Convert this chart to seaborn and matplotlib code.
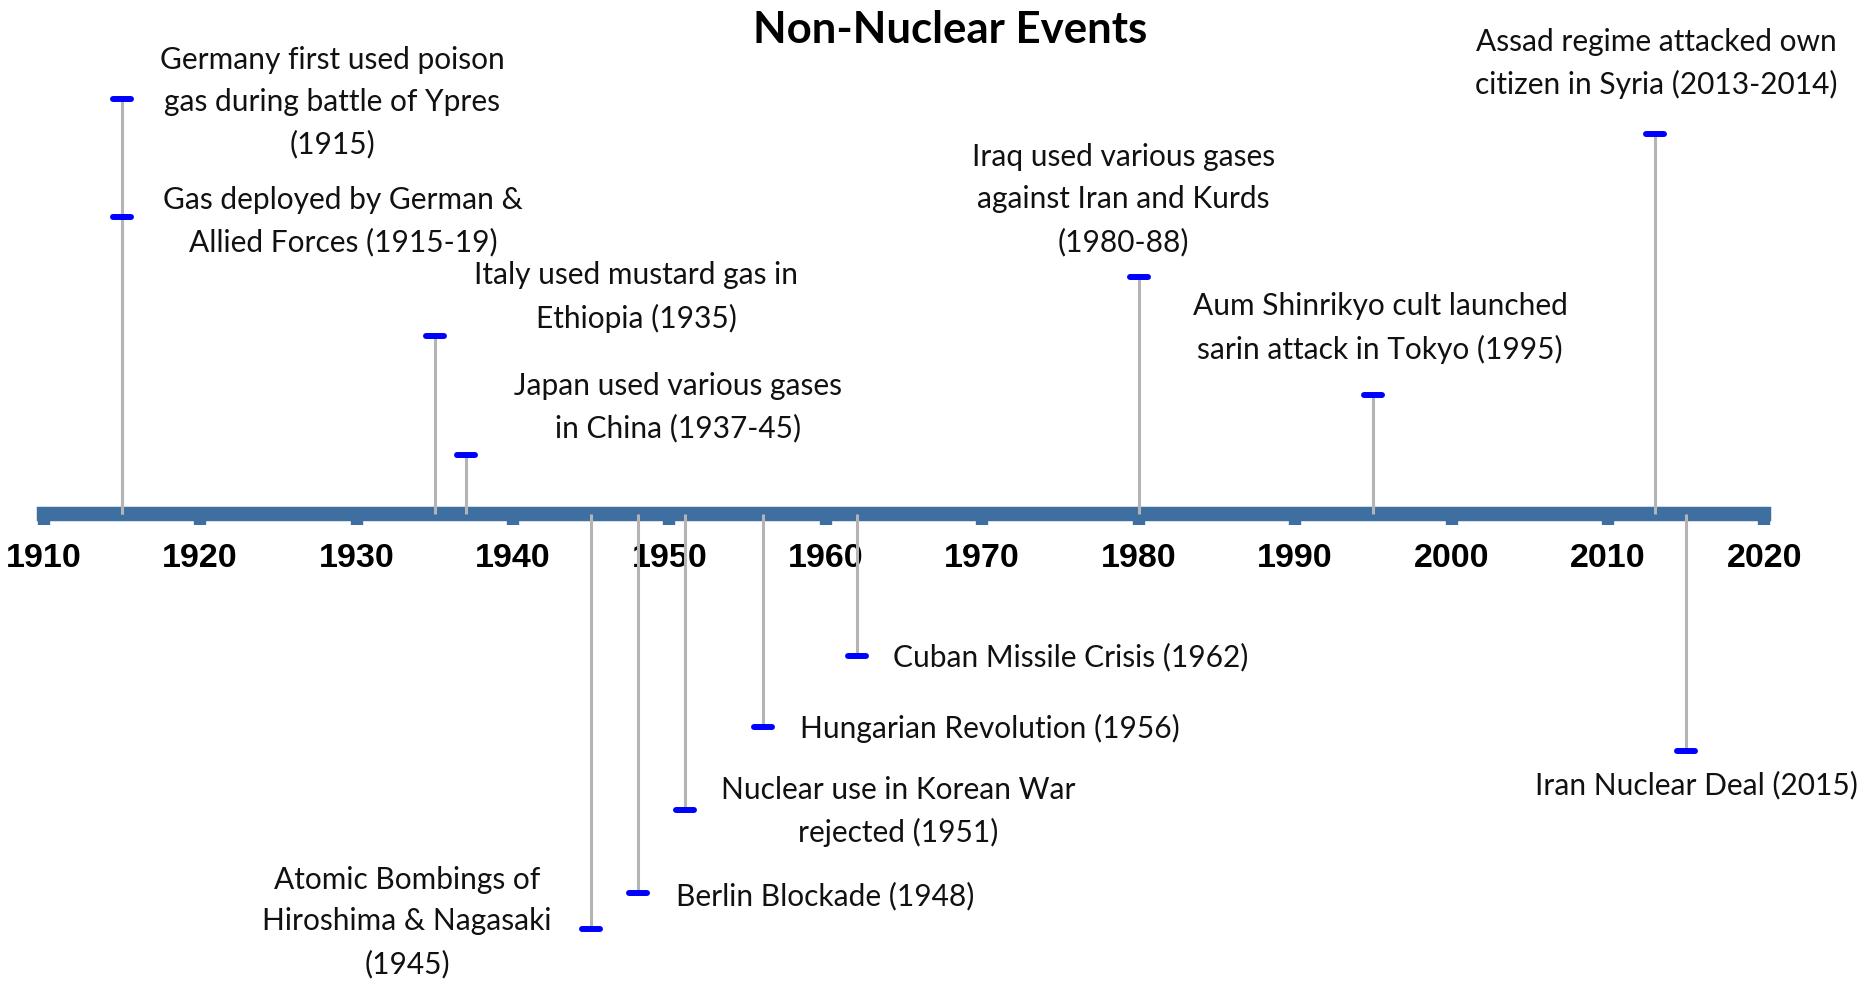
import numpy as np
import pandas as pd
import seaborn as sns
import matplotlib.pyplot as plt

# events: year, stem height (up = above the time axis), label
years = [1915, 1915, 1935, 1937, 1980, 1995, 2013,
         1945, 1948, 1951, 1956, 1962, 2015]
heights = [3.5, 2.5, 1.5, 0.5, 2.0, 1.0, 3.2,
           -3.5, -3.2, -2.5, -1.8, -1.2, -2.0]
labels = [
    "Germany first used poison\ngas during battle of Ypres\n(1915)",
    "Gas deployed by German &\nAllied Forces (1915-19)",
    "Italy used mustard gas in\nEthiopia (1935)",
    "Japan used various gases\nin China (1937-45)",
    "Iraq used various gases\nagainst Iran and Kurds\n(1980-88)",
    "Aum Shinrikyo cult launched\nsarin attack in Tokyo (1995)",
    "Assad regime attacked own\ncitizen in Syria (2013-2014)",
    "Atomic Bombings of\nHiroshima & Nagasaki\n(1945)",
    "Berlin Blockade (1948)",
    "Nuclear use in Korean War\nrejected (1951)",
    "Hungarian Revolution (1956)",
    "Cuban Missile Crisis (1962)",
    "Iran Nuclear Deal (2015)",
]
decades = list(range(1910, 2021, 10))

# where each label sits (data coords) and how it is anchored
label_x = [1928.44, 1929.14, 1947.88, 1950.56, 1979.01, 1995.44, 2013.09,
           1933.24, 1950.43, 1964.63, 1958.36, 1964.31, 2015.65]
label_y = [3.47, 2.47, 1.83, 0.90, 2.65, 1.57, 3.80,
           -3.44, -3.22, -2.51, -1.81, -1.21, -2.29]
label_ha = ["center", "center", "center", "center", "center", "center", "center",
            "center", "left", "center", "left", "left", "center"]

sns.set_theme(style="white")
plt.rcParams['font.family'] = ['Lato', 'DejaVu Sans']

df = pd.DataFrame({"year": years, "height": heights, "label": labels})

fig = plt.figure(figsize=(18.65, 9.88), dpi=100)
ax = fig.add_axes([0, 0, 1, 1])

axis_blue = "#3F6FA0"

# stems
ax.vlines(df["year"], 0, df["height"], color="#B4B4B4", lw=2.2, zorder=3)

# blue dash markers at the end of each stem
sns.scatterplot(data=df, x="year", y="height", marker="_", s=180,
                linewidth=4.3, color="blue", edgecolor="blue",
                capstyle="round", zorder=4, legend=False, ax=ax)

# time axis
for side in ["top", "right", "left"]:
    ax.spines[side].set_visible(False)
ax.spines["bottom"].set_position(("data", 0))
ax.spines["bottom"].set_bounds(1910, 2020)
ax.spines["bottom"].set_linewidth(10.4)
ax.spines["bottom"].set_color(axis_blue)
ax.spines["bottom"].set_zorder(2)

ax.set_xlim(1907.21, 2026.43)
ax.set_ylim(-3.997, 4.334)
ax.set_xticks(decades)
ax.set_xticklabels([str(d) for d in decades])
ax.set_yticks([])
ax.tick_params(axis="x", direction="out", length=8, width=8.9,
               color=axis_blue, pad=13, labelsize=24.5, labelcolor="black",
               bottom=True)
for lab in ax.get_xticklabels():
    lab.set_fontfamily(["Liberation Sans", "DejaVu Sans"])
    lab.set_fontweight("bold")
ax.set_xlabel("")
ax.set_ylabel("")

for x, y, t, ha in zip(label_x, label_y, labels, label_ha):
    ax.text(x, y, t, ha=ha, va="center", multialignment="center",
            fontsize=21.5, linespacing=1.6, color="#111111", zorder=5)

ax.text(0.5094, 0.97, "Non-Nuclear Events", transform=ax.transAxes,
        ha="center", va="center", fontsize=31.5, fontweight="bold",
        color="black")

fig.savefig("out.png", dpi=100)
